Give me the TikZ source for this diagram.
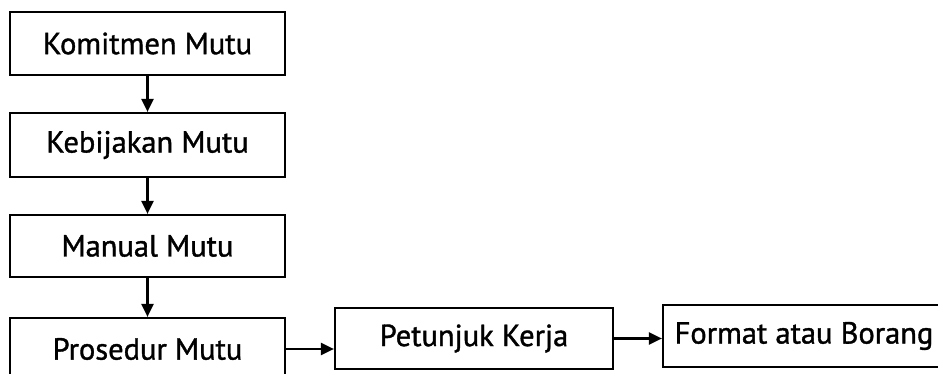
\documentclass[tikz,border=0pt]{standalone}
\usepackage{fontspec}
\setmainfont{PT Sans}
\newfontfamily\lblfont[FakeBold=1.2]{PT Sans}
\usetikzlibrary{arrows.meta}
\begin{document}
\begin{tikzpicture}[x=1pt,y=-1pt,
  box/.style={draw, line width=2.2pt, minimum height=62pt, inner sep=0pt, font=\lblfont\fontsize{30.5}{32}\selectfont},
  arr/.style={line width=2.2pt, -{Triangle[length=13pt,width=12pt]}}]
\clip (0,0) rectangle (938,374);
\fill[white] (0,0) rectangle (938,374);
\node[box, minimum width=275pt, minimum height=63pt] (km) at (147.5,43.5) {Komitmen Mutu};
\node[box, minimum width=275pt, minimum height=64pt] (kb) at (147.5,145) {Kebijakan Mutu};
\node[box, minimum width=275pt] (mm) at (147.5,246) {Manual Mutu};
\node[box, minimum width=275pt] (pm) at (147.5,349) {Prosedur Mutu};
\node[box, minimum width=278pt, minimum height=61pt] (pk) at (474,338.5) {Petunjuk Kerja};
\node[box, minimum width=282pt] (fb) at (804,336) {Format atau Borang};
\draw[arr] (km.south) -- (kb.north);
\draw[arr] (kb.south) -- (mm.north);
\draw[arr] (mm.south) -- (pm.north);
\draw[arr] (pm.east) -- (pm.east -| pk.west);
\draw[arr] (pk.east) -- (pk.east -| fb.west);
\end{tikzpicture}
\end{document}
